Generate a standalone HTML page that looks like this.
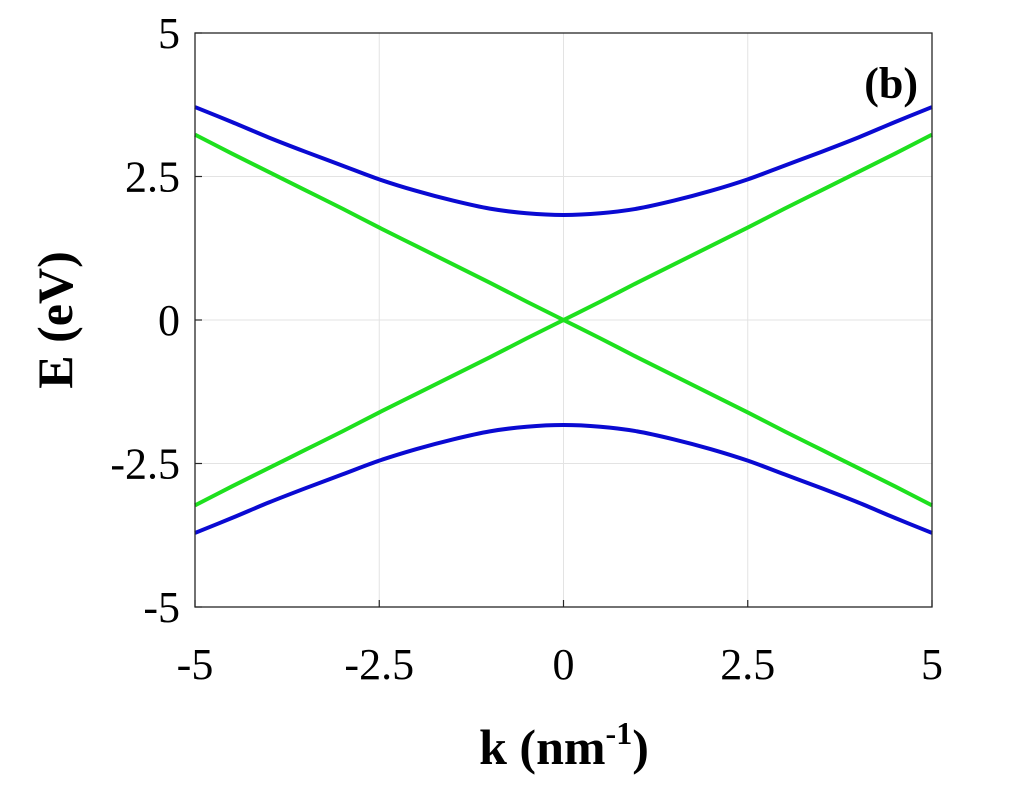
<!DOCTYPE html>
<html><head><meta charset="utf-8"><style>
html,body{margin:0;padding:0;background:#fff;}
svg{display:block;font-family:"Liberation Serif",serif;}
</style></head><body>
<svg id="chart" width="1024" height="797" viewBox="0 0 1024 797" xmlns="http://www.w3.org/2000/svg">
<g id="grid"></g>
<g id="series"></g>
<rect x="195" y="33" width="737" height="574" fill="none" stroke="#262626" stroke-width="1.3"/>
<g id="ticks"></g>
<text x="918" y="98" font-size="44" font-weight="bold" text-anchor="end">(b)</text>
<text x="564" y="764" font-size="50" font-weight="bold" text-anchor="middle">k (nm<tspan font-size="32" dy="-20">-1</tspan><tspan dy="20">)</tspan></text>
<text transform="translate(72,320) rotate(-90)" font-size="50" font-weight="bold" text-anchor="middle">E (eV)</text>
</svg>
<script>
const kVals=[-5,-4.5,-4,-3.5,-3,-2.5,-2,-1.5,-1,-0.5,0,0.5,1,1.5,2,2.5,3,3.5,4,4.5,5];
const greenUp=[-3.23,-2.90,-2.58,-2.26,-1.94,-1.61,-1.29,-0.97,-0.65,-0.32,0,0.32,0.65,0.97,1.29,1.61,1.94,2.26,2.58,2.90,3.23];
const greenDown=[3.23,2.90,2.58,2.26,1.94,1.61,1.29,0.97,0.65,0.32,0,-0.32,-0.65,-0.97,-1.29,-1.61,-1.94,-2.26,-2.58,-2.90,-3.23];
const blueUp=[3.71,3.45,3.18,2.93,2.69,2.45,2.25,2.08,1.94,1.86,1.83,1.86,1.94,2.08,2.25,2.45,2.69,2.93,3.18,3.45,3.71];
const blueDown=[-3.71,-3.45,-3.18,-2.93,-2.69,-2.45,-2.25,-2.08,-1.94,-1.86,-1.83,-1.86,-1.94,-2.08,-2.25,-2.45,-2.69,-2.93,-3.18,-3.45,-3.71];
const xTicks=[-5,-2.5,0,2.5,5];
const yTicks=[-5,-2.5,0,2.5,5];
const xTickLabels=["-5","-2.5","0","2.5","5"];
const yTickLabels=["-5","-2.5","0","2.5","5"];
const X0=195,X1=932,Y0=607,Y1=33;
function xs(v){return X0+(v+5)/10*(X1-X0);}
function ys(v){return Y0-(v+5)/10*(Y0-Y1);}
const NS="http://www.w3.org/2000/svg";
const grid=document.getElementById('grid'),ticks=document.getElementById('ticks'),series=document.getElementById('series');
function mk(tag,attrs,parent){const e=document.createElementNS(NS,tag);for(const k in attrs)e.setAttribute(k,attrs[k]);parent.appendChild(e);return e;}
xTicks.forEach((t,i)=>{
  const g=mk('line',{x1:xs(t),x2:xs(t),y1:Y1,y2:Y0,stroke:'#e3e3e3','stroke-width':1},grid);
  
  
  const tm=mk('line',{x1:xs(t),x2:xs(t),y1:Y0,y2:Y0-7,stroke:'#262626','stroke-width':1.2},ticks);
  
  
  const tx=mk('text',{x:xs(t),y:679,'font-size':44,'text-anchor':'middle'},ticks);
  tx.textContent=xTickLabels[i];
  
  
});
yTicks.forEach((t,i)=>{
  const g=mk('line',{x1:X0,x2:X1,y1:ys(t),y2:ys(t),stroke:'#e3e3e3','stroke-width':1},grid);
  
  
  const tm=mk('line',{x1:X0,x2:X0+7,y1:ys(t),y2:ys(t),stroke:'#262626','stroke-width':1.2},ticks);
  
  
  const tx=mk('text',{x:180,y:ys(t)+15,'font-size':44,'text-anchor':'end'},ticks);
  tx.textContent=yTickLabels[i];
  
  
});
function smooth(vals){
  const p=kVals.map((k,i)=>[xs(k),ys(vals[i])]);
  let d='M'+p[0][0]+','+p[0][1];
  for(let i=0;i<p.length-1;i++){
    const a=p[Math.max(0,i-1)],b=p[i],c=p[i+1],e=p[Math.min(p.length-1,i+2)];
    const c1=[b[0]+(c[0]-a[0])/6,b[1]+(c[1]-a[1])/6],c2=[c[0]-(e[0]-b[0])/6,c[1]-(e[1]-b[1])/6];
    d+=' C'+c1+' '+c2+' '+c;
  }
  return d;
}
[[greenUp,'#1ee01e','green-band-up'],[greenDown,'#1ee01e','green-band-down'],[blueUp,'#0a0ad2','blue-band-conduction'],[blueDown,'#0a0ad2','blue-band-valence']].forEach(s=>{
  const p=mk('path',{d:smooth(s[0]),fill:'none',stroke:s[1],'stroke-width':4},series);
  
  
});
</script>
</body></html>
